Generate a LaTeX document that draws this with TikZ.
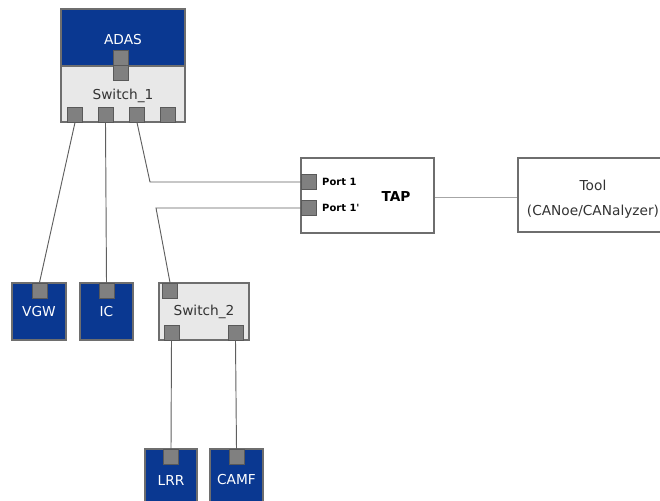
\documentclass[tikz,border=0pt]{standalone}
\usepackage{fontspec}
\setmainfont{DejaVu Sans}
\definecolor{ecublue}{RGB}{10,56,145}
\definecolor{swgray}{RGB}{232,232,232}
\definecolor{portgray}{RGB}{128,128,128}
\definecolor{edgegray}{RGB}{110,110,110}
\definecolor{wiregray}{RGB}{95,95,95}
\tikzset{
  ecu/.style={draw=edgegray, line width=1pt, fill=ecublue, text=white, inner sep=0pt},
  switchbox/.style={draw=edgegray, line width=1pt, fill=swgray, text=black!80, inner sep=0pt},
  plainbox/.style={draw=edgegray, line width=1pt, fill=white, inner sep=0pt},
  port/.style={draw=black!65, line width=0.8pt, fill=portgray, minimum size=0.45cm, inner sep=0pt},
  wire/.style={draw=wiregray, line width=0.8pt},
  portlabel/.style={font=\bfseries\fontsize{8.5}{9}\selectfont, anchor=west, inner sep=0pt}
}
\begin{document}
\begin{tikzpicture}[x=0.03cm, y=-0.03cm, font=\fontsize{11.7}{13}\selectfont]
  \useasboundingbox (0,0) rectangle (660,501);

  % ADAS and Switch_1
  \node[ecu, minimum width=3.72cm, minimum height=1.71cm] (adas) at (123,37.5) {};
  \node[text=white] (adaslabel) at (123,40) {ADAS};
  \node[switchbox, minimum width=3.72cm, minimum height=1.68cm] (sw1) at (123,94) {};
  \node[text=black!80] (sw1label) at (123,96) {Switch\_1};
  \node[port] (adasp) at (121,58) {};
  \node[port] (sw1up) at (121,73) {};
  \node[port] (sw1a) at (75,114.5) {};
  \node[port] (sw1b) at (105.5,114.5) {};
  \node[port] (sw1c) at (137,114.5) {};
  \node[port] (sw1d) at (168,114.5) {};

  % TAP and tool
  \node[plainbox, minimum width=3.99cm, minimum height=2.25cm] (tap) at (367.5,195.5) {};
  \node[port] (tapa) at (309,182) {};
  \node[port] (tapb) at (309,208) {};
  \node[portlabel] (tapalabel) at (322,182) {Port 1};
  \node[portlabel] (tapblabel) at (322,208) {Port 1\textquotesingle};
  \node[font=\bfseries\fontsize{11.7}{13}\selectfont] (taplabel) at (396,197) {TAP};
  \node[plainbox, minimum width=4.5cm, minimum height=2.22cm] (tool) at (593,195) {};
  \node[align=center, font=\fontsize{11.7}{21}\selectfont, text=black!80] (toollabel) at (593,199)
        {Tool\\(CANoe/CANalyzer)};

  % end nodes
  \node[ecu, minimum width=1.62cm, minimum height=1.71cm] (vgw) at (39,311.5) {VGW};
  \node[port] (vgwp) at (39.5,290.5) {};
  \node[ecu, minimum width=1.59cm, minimum height=1.71cm] (ic) at (106.5,311.5) {IC};
  \node[port] (icp) at (106.5,290.5) {};

  \node[switchbox, minimum width=2.7cm, minimum height=1.71cm] (sw2) at (204,311.5) {Switch\_2};
  \node[port] (sw2a) at (170,290.5) {};
  \node[port] (sw2b) at (171.5,332.5) {};
  \node[port] (sw2c) at (235.5,332.5) {};

  \node[ecu, minimum width=1.56cm, minimum height=1.86cm] (lrr) at (171,480) {LRR};
  \node[port] (lrrp) at (171,457) {};
  \node[ecu, minimum width=1.59cm, minimum height=1.86cm] (camf) at (236.5,480) {CAMF};
  \node[port] (camfp) at (236.5,457) {};

  % wires
  \coordinate (bendA) at (150,182);
  \coordinate (bendB) at (156,208);
  \draw[wire] (sw1a.south) -- (vgwp.north);
  \draw[wire] (sw1b.south) -- (icp.north);
  \draw[wire] (sw1c.south) -- (bendA) -- (tapa.west);
  \draw[wire] (tapb.west) -- (bendB) -- (sw2a.north);
  \draw[wire] (sw2b.south) -- (lrrp.north);
  \draw[wire] (sw2c.south) -- (camfp.north);
  \draw[draw=black!35, line width=0.8pt] (tap.east |- taplabel) -- (tool.west |- taplabel);
\end{tikzpicture}
\end{document}
